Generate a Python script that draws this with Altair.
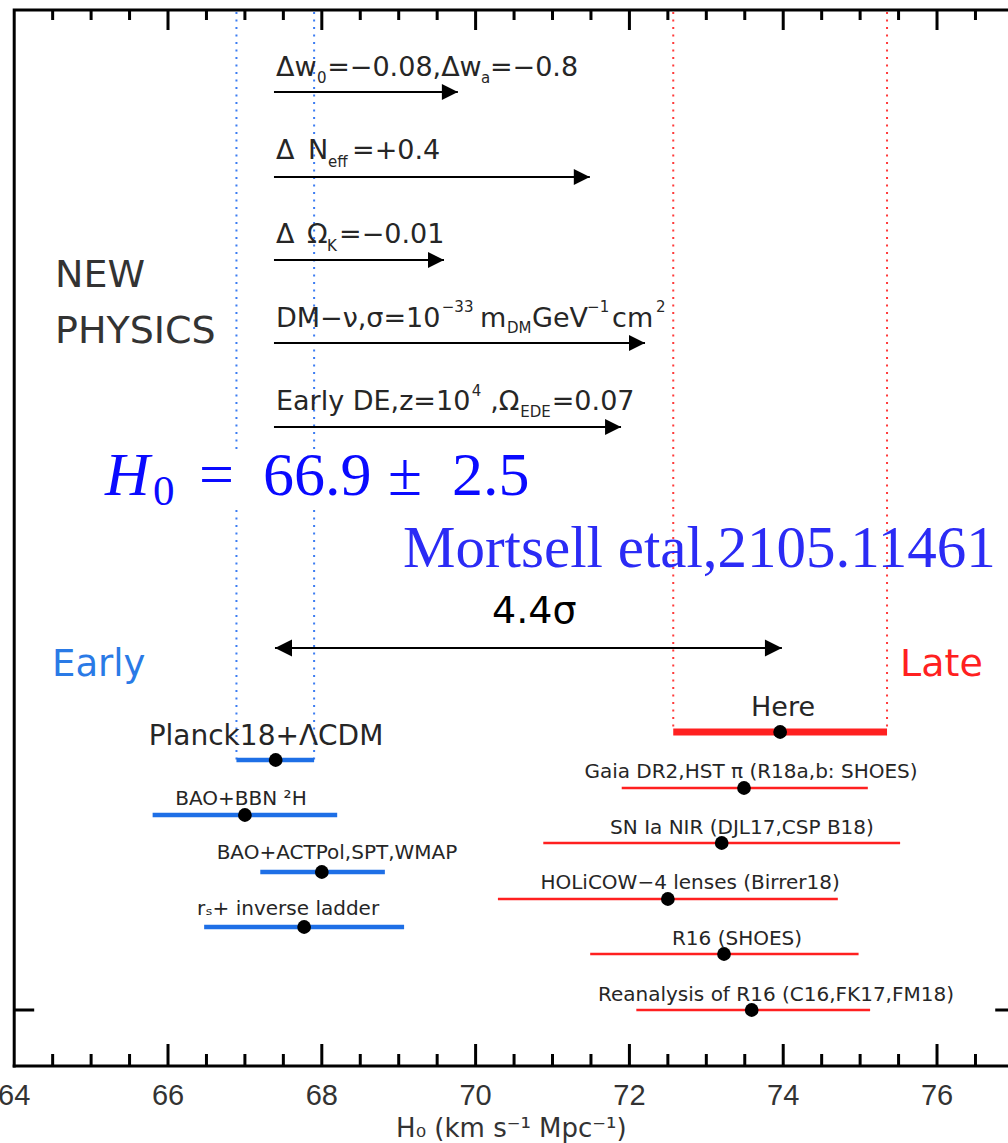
import altair as alt
import pandas as pd

# ---------------- frame extent (data units) ----------------
X_MIN, X_MAX = 64.0, 76.93          # H0 range shown inside the frame
Y_TOP, Y_BOT = 0, 1056              # vertical layout units (0 = top of frame)
VIEW_X = [63.8153, 76.923]          # full picture width incl. margins
VIEW_Y = [-10, 1133]                # full picture height incl. margins

# ---------------- measurements ----------------
early_names = ["Planck18+ΛCDM", "BAO+BBN ²H", "BAO+ACTPol,SPT,WMAP", "rₛ+ inverse ladder"]
early_h0 = [67.40, 67.00, 68.00, 67.77]
early_lo = [66.89, 65.80, 67.20, 66.47]
early_hi = [67.90, 68.20, 68.82, 69.07]
early_row = [750, 805, 862, 917]

here_name = ["Here"]
here_h0 = [73.96]
here_lo = [72.57]
here_hi = [75.35]
here_row = [722]

late_names = ["Gaia DR2,HST π (R18a,b: SHOES)", "SN Ia NIR (DJL17,CSP B18)",
              "HOLiCOW−4 lenses (Birrer18)", "R16 (SHOES)",
              "Reanalysis of R16 (C16,FK17,FM18)"]
late_h0 = [73.49, 73.20, 72.50, 73.23, 73.59]
late_lo = [71.90, 70.88, 70.29, 71.49, 72.09]
late_hi = [75.10, 75.52, 74.71, 74.98, 75.13]
late_row = [778, 833, 889, 944, 1000]

# new-physics shifts (arrows start at Planck value)
np_start = 67.378
np_end = [69.769, 71.485, 69.589, 72.203, 71.891]
np_row = [82, 167, 250, 333, 417]

# tension arrow
tension_from, tension_to, tension_row = 67.391, 73.983, 638

# ticks
major_ticks = [64, 66, 68, 70, 72, 74, 76]
minor_ticks = [64.5, 65, 65.5, 66.5, 67, 67.5, 68.5, 69, 69.5, 70.5, 71, 71.5,
               72.5, 73, 73.5, 74.5, 75, 75.5, 76.5]
tick_labels = ["64", "66", "68", "70", "72", "74", "76"]
x_title = "H₀ (km s⁻¹ Mpc⁻¹)"

# ---------------- annotation text ----------------
early_lab_x = [67.274, 66.949, 68.197, 67.561]
early_lab_y = [735, 795, 849, 905]
here_lab_x, here_lab_y = [73.997], [706]
late_lab_x = [73.581, 73.464, 72.789, 73.399, 73.906]
late_lab_y = [768, 824, 879, 935, 991]

arrow_main = [
    ("Δw", 67.404, 66), ("=−0.08,Δw", 68.07, 66), ("=−0.8", 70.186, 66),
    ("Δ", 67.404, 149), ("N", 67.822, 149), ("=+0.4", 68.394, 149),
    ("Δ", 67.404, 233), ("Ω", 67.809, 233), ("=−0.01", 68.225, 233),
    ("DM−ν,σ=10", 67.404, 317), ("m", 70.057, 317), ("GeV", 70.733, 317), ("cm", 71.775, 317),
    ("Early DE,z=10", 67.404, 400), (",Ω", 70.19, 400), ("=0.07", 70.99, 400),
]
arrow_small = [
    ("0", 67.938, 73), ("a", 70.069, 73), ("eff", 68.082, 157), ("K", 68.069, 241),
    ("−33", 69.56, 302), ("DM", 70.408, 323), ("−1", 71.45, 302), ("2", 72.345, 302),
    ("4", 69.95, 386), ("EDE", 70.58, 407),
]

BLUE = "#1e6fe6"
RED = "#ff2020"
INK = "#262626"
HALF = 1.5 / 76.9                    # half a 3px stroke, in H0 units

xs = alt.Scale(domain=VIEW_X, nice=False, zero=False)
ys = alt.Scale(domain=VIEW_Y, nice=False, zero=False, reverse=True)


def X(f="x"):
    return alt.X(f"{f}:Q", scale=xs, axis=None)


def Y(f="y"):
    return alt.Y(f"{f}:Q", scale=ys, axis=None)


def hrules(df, **kw):
    return alt.Chart(df).mark_rule(strokeCap="butt", **kw).encode(
        x=X(), x2="x2:Q", y=Y())


def vrules(df, **kw):
    return alt.Chart(df).mark_rule(strokeCap="butt", **kw).encode(
        x=X(), y=Y(), y2="y2:Q")


def texts(df, **kw):
    return alt.Chart(df).mark_text(**kw).encode(x=X(), y=Y(), text="text:N")


layers = []

# ---- frame: left side + top side with its inward ticks, as one polyline ----
top_ticks = sorted(major_ticks[1:] + minor_ticks)
px_, py_ = [X_MIN, X_MIN], [Y_BOT + 1.5, Y_TOP]
for t in top_ticks:
    L = 20 if t in major_ticks else 10
    px_ += [t, t, t]
    py_ += [Y_TOP, Y_TOP + L, Y_TOP]
px_.append(X_MAX)
py_.append(Y_TOP)
frame_line = pd.DataFrame({"x": px_, "y": py_, "i": list(range(len(px_)))})
layers.append(alt.Chart(frame_line).mark_line(
    color="black", strokeWidth=3, strokeJoin="miter", strokeCap="butt"
).encode(x=X(), y=Y(), order=alt.Order("i:Q")))

# bottom side and its ticks
tick_x = major_ticks[1:] + minor_ticks
bot_len = [22] * (len(major_ticks) - 1) + [12] * len(minor_ticks)
layers.append(hrules(pd.DataFrame({"x": [X_MIN - HALF], "x2": [X_MAX], "y": [Y_BOT]}),
                     color="black", strokeWidth=3))
layers.append(vrules(pd.DataFrame({"x": tick_x, "y": [Y_BOT - L for L in bot_len],
                                   "y2": [Y_BOT] * len(tick_x)}), color="black", strokeWidth=3))
# y tick (left & right)
layers.append(hrules(pd.DataFrame({"x": [X_MIN, 76.757], "x2": [64.26, X_MAX],
                                   "y": [1000, 1000]}), color="black", strokeWidth=3))
# x tick labels and title
layers.append(texts(pd.DataFrame({"x": major_ticks, "y": [1095] * len(major_ticks), "text": tick_labels}),
                    font="Liberation Sans", fontSize=29, color="#333333", align="center",
                    baseline="alphabetic"))
layers.append(texts(pd.DataFrame({"x": [(X_MIN + X_MAX) / 2], "y": [1127], "text": [x_title]}),
                    font="DejaVu Sans", fontSize=26, color="#333333", align="center",
                    baseline="alphabetic"))

# dotted bands
layers.append(vrules(pd.DataFrame({"x": [early_lo[0], early_lo[0], early_hi[0], early_hi[0]],
                                   "y": [Y_TOP + 2, 500, Y_TOP + 2, 500],
                                   "y2": [440, early_row[0], 440, early_row[0]]}),
                     color="#3b7cf2", strokeWidth=2, strokeDash=[2, 5.5]))
layers.append(vrules(pd.DataFrame({"x": [here_lo[0], here_hi[0]], "y": [Y_TOP + 2, Y_TOP + 2],
                                   "y2": [here_row[0], here_row[0]]}),
                     color="#ff3b3b", strokeWidth=2, strokeDash=[2, 5.5]))

# error bars
early_df = pd.DataFrame({"name": early_names, "h0": early_h0, "x": early_lo,
                         "x2": early_hi, "y": early_row})
late_df = pd.DataFrame({"name": late_names, "h0": late_h0, "x": late_lo,
                        "x2": late_hi, "y": late_row})
here_df = pd.DataFrame({"name": here_name, "h0": here_h0, "x": here_lo,
                        "x2": here_hi, "y": here_row})
layers.append(hrules(early_df, color=BLUE, strokeWidth=4.5))
layers.append(hrules(late_df, color=RED, strokeWidth=2.5))
layers.append(hrules(here_df, color=RED, strokeWidth=7))
for df in (early_df, late_df, here_df):
    layers.append(alt.Chart(df).mark_circle(size=190, color="black", opacity=1).encode(
        x=X("h0"), y=Y()))

# point labels
layers.append(texts(pd.DataFrame({"x": early_lab_x[:1], "y": early_lab_y[:1], "text": early_names[:1]}),
                    font="DejaVu Sans", fontSize=28, color=INK, align="center", baseline="alphabetic"))
layers.append(texts(pd.DataFrame({"x": early_lab_x[1:], "y": early_lab_y[1:], "text": early_names[1:]}),
                    font="DejaVu Sans", fontSize=20, color=INK, align="center", baseline="alphabetic"))
layers.append(texts(pd.DataFrame({"x": here_lab_x, "y": here_lab_y, "text": here_name}),
                    font="DejaVu Sans", fontSize=27, color=INK, align="center", baseline="alphabetic"))
layers.append(texts(pd.DataFrame({"x": late_lab_x, "y": late_lab_y, "text": late_names}),
                    font="DejaVu Sans", fontSize=20, color=INK, align="center", baseline="alphabetic"))

# new-physics arrows
np_df = pd.DataFrame({"x": [np_start] * len(np_end), "x2": np_end, "y": np_row})
layers.append(hrules(np_df, color="black", strokeWidth=2.2))
layers.append(alt.Chart(pd.DataFrame({"x": np_end, "y": np_row})).mark_point(
    shape="M-2,-1L0,0L-2,1Z", filled=True, size=256, color="black", opacity=1, strokeWidth=0
).encode(x=X(), y=Y()))
layers.append(texts(pd.DataFrame(arrow_main, columns=["text", "x", "y"]),
                    font="DejaVu Sans", fontSize=27, color=INK, align="left", baseline="alphabetic"))
layers.append(texts(pd.DataFrame(arrow_small, columns=["text", "x", "y"]),
                    font="DejaVu Sans", fontSize=15, color=INK, align="left", baseline="alphabetic"))

# tension arrow
layers.append(hrules(pd.DataFrame({"x": [tension_from], "x2": [tension_to], "y": [tension_row]}),
                     color="black", strokeWidth=2))
layers.append(alt.Chart(pd.DataFrame({"x": [tension_to], "y": [tension_row]})).mark_point(
    shape="M-2,-1L0,0L-2,1Z", filled=True, size=289, color="black", opacity=1, strokeWidth=0
).encode(x=X(), y=Y()))
layers.append(alt.Chart(pd.DataFrame({"x": [tension_from], "y": [tension_row]})).mark_point(
    shape="M2,-1L0,0L2,1Z", filled=True, size=289, color="black", opacity=1, strokeWidth=0
).encode(x=X(), y=Y()))
layers.append(texts(pd.DataFrame({"x": [70.213], "y": [613], "text": ["4.4σ"]}),
                    font="DejaVu Sans", fontSize=38, color="black", align="left", baseline="alphabetic"))

# side labels
layers.append(texts(pd.DataFrame({"x": [64.530, 64.530], "y": [277, 333], "text": ["NEW", "PHYSICS"]}),
                    font="DejaVu Sans", fontSize=38, color="#333333", align="left", baseline="alphabetic"))
layers.append(texts(pd.DataFrame({"x": [64.492], "y": [666], "text": ["Early"]}),
                    font="DejaVu Sans", fontSize=37, color="#2a7ae6", align="left", baseline="alphabetic"))
layers.append(texts(pd.DataFrame({"x": [75.519], "y": [666], "text": ["Late"]}),
                    font="DejaVu Sans", fontSize=38, color=RED, align="left", baseline="alphabetic"))

# H0 result (serif, blue)
layers.append(texts(pd.DataFrame({"x": [65.181], "y": [485], "text": ["H"]}),
                    font="Liberation Serif", fontSize=62, fontStyle="italic", color="#0a0aff",
                    align="left", baseline="alphabetic"))
layers.append(texts(pd.DataFrame({"x": [65.805], "y": [495], "text": ["0"]}),
                    font="Liberation Serif", fontSize=43, color="#0a0aff", align="left", baseline="alphabetic"))
layers.append(texts(pd.DataFrame({"x": [66.403, 67.235, 68.861, 69.693], "y": [485] * 4,
                                  "text": ["=", "66.9", "±", "2.5"]}),
                    font="Liberation Serif", fontSize=62, color="#0a0aff", align="left", baseline="alphabetic"))
layers.append(texts(pd.DataFrame({"x": [69.056], "y": [557], "text": ["Mortsell etal,2105.11461"]}),
                    font="Liberation Serif", fontSize=59, color="#2b2bf5", align="left", baseline="alphabetic"))

chart = alt.layer(*layers).properties(
    width=1008, height=1143,
    autosize=alt.AutoSizeParams(type="none"),
    padding=0,
).configure_view(strokeWidth=0)

chart.save("out.html", embed_options={"renderer": "svg", "actions": False})
